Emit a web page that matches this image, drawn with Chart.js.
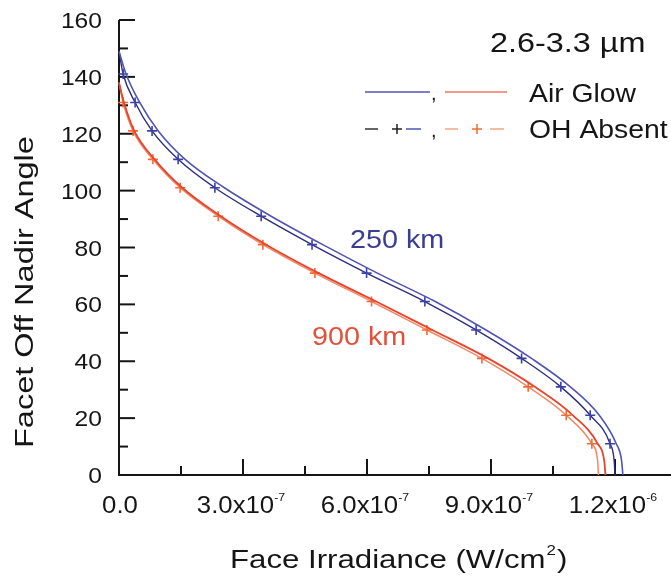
<!DOCTYPE html>
<html>
<head>
<meta charset="utf-8">
<script src="https://cdn.jsdelivr.net/npm/chart.js@4.4.1/dist/chart.umd.min.js"></script>
<style>
  html, body { margin: 0; padding: 0; background: #fff; }
  #wrap { width: 671px; height: 583px; position: relative; }
</style>
</head>
<body>
<div id="wrap"><canvas id="c"></canvas></div>
<script>
// Facet off-nadir angle (deg) versus face irradiance (W/cm^2), 2.6-3.3 um band

// 250 km orbit
const angle250AirGlow = [149, 141, 131, 121, 111, 101, 91, 81, 71, 61, 51, 41, 31, 21, 11, 5, 0];
const irr250AirGlow   = [0, 0.17e-7, 0.50e-7, 0.95e-7, 1.60e-7, 2.55e-7, 3.68e-7, 4.93e-7, 6.25e-7, 7.65e-7, 8.88e-7, 9.98e-7, 10.92e-7, 11.62e-7, 12.03e-7, 12.16e-7, 12.19e-7];
const angle250OH      = [149, 141, 131, 121, 111, 101, 91, 81, 71, 61, 51, 41, 31, 21, 11, 5, 0];
const irr250OH        = [0, 0.10e-7, 0.39e-7, 0.80e-7, 1.43e-7, 2.32e-7, 3.44e-7, 4.67e-7, 5.99e-7, 7.40e-7, 8.64e-7, 9.74e-7, 10.69e-7, 11.40e-7, 11.88e-7, 11.98e-7, 12.00e-7];

// 900 km orbit
const angle900AirGlow = [138, 131, 121, 111, 101, 91, 81, 71, 61, 51, 41, 31, 21, 11, 5, 0];
const irr900AirGlow   = [0, 0.12e-7, 0.37e-7, 0.86e-7, 1.53e-7, 2.46e-7, 3.56e-7, 4.83e-7, 6.22e-7, 7.58e-7, 8.93e-7, 10.06e-7, 10.98e-7, 11.58e-7, 11.74e-7, 11.77e-7];
const angle900OH      = [138, 131, 121, 111, 101, 91, 81, 71, 61, 51, 41, 31, 21, 11, 5, 0];
const irr900OH        = [0, 0.10e-7, 0.34e-7, 0.82e-7, 1.48e-7, 2.40e-7, 3.48e-7, 4.74e-7, 6.11e-7, 7.45e-7, 8.78e-7, 9.90e-7, 10.82e-7, 11.44e-7, 11.58e-7, 11.60e-7];

// Axis ticks and labels
const yMajorTicks = [0, 20, 40, 60, 80, 100, 120, 140, 160];
const yMinorTicks = [10, 30, 50, 70, 90, 110, 130, 150];
const xMajorTicks = [0, 3e-7, 6e-7, 9e-7, 1.2e-6];
const xMinorTicks = [1.5e-7, 4.5e-7, 7.5e-7, 1.05e-6];
const xTickMantissa = ["0.0", "3.0x10", "6.0x10", "9.0x10", "1.2x10"];
const xTickExponent = ["", "-7", "-7", "-7", "-6"];

const xTitle = "Face Irradiance (W/cm";
const xTitleSup = "2";
const yTitle = "Facet Off Nadir Angle";
const bandTitle = "2.6-3.3 \u00B5m";
const legendLabels = ["Air Glow", "OH Absent"];
const orbitLabels = ["250 km", "900 km"];

const FONT = '"Liberation Sans", Arial, Helvetica, sans-serif';
const INK = '#151515';
const BLUE = '#4f55b3';
const NAVY = '#2c2e7e';
const BLUE_MARK = '#3b40a8';
const RED = '#e8432b';
const ORANGE = '#f08a68';
const ORANGE_MARK = '#f26a34';

function pts(xs, ys) { return xs.map((x, i) => ({ x: x, y: ys[i] })); }

function textWidth(ctx, s, size) {
  ctx.save();
  ctx.font = size + 'px ' + FONT;
  const w = ctx.measureText(s).width;
  ctx.restore();
  return w;
}

function drawText(ctx, s, x, y, size, o) {
  o = Object.assign({ align: 'left', color: INK, sx: 1, rot: 0 }, o || {});
  ctx.save();
  ctx.translate(x, y);
  if (o.rot) ctx.rotate(o.rot);
  ctx.scale(o.sx, 1);
  ctx.font = size + 'px ' + FONT;
  ctx.fillStyle = o.color;
  ctx.textAlign = o.align;
  ctx.textBaseline = 'alphabetic';
  ctx.fillText(s, 0, 0);
  ctx.restore();
}

function line(ctx, x1, y1, x2, y2, color, w) {
  ctx.beginPath();
  ctx.moveTo(x1, y1);
  ctx.lineTo(x2, y2);
  ctx.strokeStyle = color;
  ctx.lineWidth = w;
  ctx.stroke();
}

function plus(ctx, x, y, r, color, w) {
  line(ctx, x - r, y, x + r, y, color, w);
  line(ctx, x, y - r, x, y + r, color, w);
}

// Axes with inward ticks, drawn from the chart's own scales
const axesPlugin = {
  id: 'axesPlugin',
  beforeDatasetsDraw(chart) {
    const ctx = chart.ctx;
    const xs = chart.scales.x, ys = chart.scales.y;
    const left = xs.left, right = xs.right, top = ys.top, bottom = ys.bottom;
    ctx.save();
    ctx.lineCap = 'butt';
    line(ctx, left, top, left, bottom + 1, INK, 2);
    line(ctx, left - 1, bottom, right, bottom, INK, 2);
    yMajorTicks.forEach(v => { const p = ys.getPixelForValue(v); line(ctx, left, p, left + 16, p, INK, 2); });
    yMinorTicks.forEach(v => { const p = ys.getPixelForValue(v); line(ctx, left, p, left + 9, p, INK, 2); });
    xMajorTicks.forEach(v => { const p = xs.getPixelForValue(v); if (v > 0) line(ctx, p, bottom, p, bottom - 16, INK, 2); });
    xMinorTicks.forEach(v => { const p = xs.getPixelForValue(v); line(ctx, p, bottom, p, bottom - 9, INK, 2); });
    ctx.restore();
  },
  afterDraw(chart) {
    const ctx = chart.ctx;
    const xs = chart.scales.x, ys = chart.scales.y;
    const left = xs.left, bottom = ys.bottom;

    // y tick labels
    yMajorTicks.forEach(v => {
      const p = ys.getPixelForValue(v);
      drawText(ctx, String(v), left - 17, p + 8, 22, { align: 'right', sx: 1.12 });
    });

    // x tick labels with exponents
    const sx = 1.12, mSize = 23, eSize = 11;
    xMajorTicks.forEach((v, i) => {
      const p = xs.getPixelForValue(v);
      const wm = textWidth(ctx, xTickMantissa[i], mSize) * sx;
      const we = xTickExponent[i] ? textWidth(ctx, xTickExponent[i], eSize) * sx : 0;
      const x0 = p - (wm + we) / 2 + (i === 0 ? 1 : -2);
      drawText(ctx, xTickMantissa[i], x0, bottom + 38, mSize, { sx: sx });
      if (we) drawText(ctx, xTickExponent[i], x0 + wm, bottom + 26, eSize, { sx: sx });
    });

    // x axis title
    const tSx = 1.2, tSize = 26;
    const wT = textWidth(ctx, xTitle, tSize) * tSx;
    const xT = 230;
    drawText(ctx, xTitle, xT, 568, tSize, { sx: tSx });
    const wS = textWidth(ctx, xTitleSup, 14) * tSx;
    drawText(ctx, xTitleSup, xT + wT + 1, 555, 14, { sx: tSx });
    drawText(ctx, ')', xT + wT + wS + 2, 568, tSize, { sx: tSx });

    // y axis title
    drawText(ctx, yTitle, 33, 448, 26, { sx: 1.25, rot: -Math.PI / 2 });

    // band title
    drawText(ctx, bandTitle, 490, 52, 27, { sx: 1.2 });

    // legend
    ctx.save();
    const r1 = 92, r2 = 129;
    line(ctx, 365, r1, 430, r1, BLUE, 1.5);
    line(ctx, 445, r1, 507, r1, '#ee7a5e', 1.5);
    drawText(ctx, ',', 431, 100, 20);
    line(ctx, 365, r2, 378, r2, '#333333', 1.5);
    plus(ctx, 397, r2, 5, '#222222', 1.5);
    line(ctx, 406, r2, 421, r2, BLUE, 1.5);
    drawText(ctx, ',', 431, 137, 20);
    line(ctx, 445, r2, 458, r2, '#f4a486', 1.5);
    plus(ctx, 477, r2, 5, ORANGE_MARK, 1.5);
    line(ctx, 490, r2, 504, r2, '#f4a486', 1.5);
    ctx.restore();
    drawText(ctx, legendLabels[0], 529, 102, 26, { sx: 1.09 });
    drawText(ctx, legendLabels[1], 529, 138, 26, { sx: 1.09 });

    // orbit annotations
    drawText(ctx, orbitLabels[0], 350, 248, 25, { sx: 1.15, color: '#3a3d95' });
    drawText(ctx, orbitLabels[1], 312, 345, 25, { sx: 1.15, color: '#e4513a' });
  }
};

// "+" markers sit on the 10-degree sample angles (x1 deg); end points carry none
function markerRadius(angles) {
  return ctx => {
    const a = angles[ctx.dataIndex];
    return (a % 10 === 1 && ctx.dataIndex !== 0) ? 5 : 0;
  };
}

const common = { fill: false, cubicInterpolationMode: 'monotone', clip: false };

new Chart(document.getElementById('c'), {
  type: 'line',
  data: {
    datasets: [
      Object.assign({
        label: '250 km Air Glow',
        data: pts(irr250AirGlow, angle250AirGlow),
        borderColor: BLUE, borderWidth: 1.6, pointRadius: 0
      }, common),
      Object.assign({
        label: '250 km OH Absent',
        data: pts(irr250OH, angle250OH),
        borderColor: NAVY, borderWidth: 1.4,
        pointStyle: 'cross', pointRadius: markerRadius(angle250OH),
        pointBorderColor: BLUE_MARK, pointBorderWidth: 1.6
      }, common),
      Object.assign({
        label: '900 km Air Glow',
        data: pts(irr900AirGlow, angle900AirGlow),
        borderColor: RED, borderWidth: 1.8, pointRadius: 0
      }, common),
      Object.assign({
        label: '900 km OH Absent',
        data: pts(irr900OH, angle900OH),
        borderColor: ORANGE, borderWidth: 1.5,
        pointStyle: 'cross', pointRadius: markerRadius(angle900OH),
        pointBorderColor: ORANGE_MARK, pointBorderWidth: 1.6
      }, common)
    ]
  },
  options: {
    responsive: true,
    maintainAspectRatio: false,
    animation: false,
    events: [],
    layout: { padding: { left: 119, top: 20, right: 0, bottom: 108 } },
    plugins: { legend: { display: false }, tooltip: { enabled: false } },
    scales: {
      x: { type: 'linear', min: 0, max: 1.3355e-6, display: false },
      y: { type: 'linear', min: 0, max: 160, display: false }
    }
  },
  plugins: [axesPlugin]
});
</script>
</body>
</html>
